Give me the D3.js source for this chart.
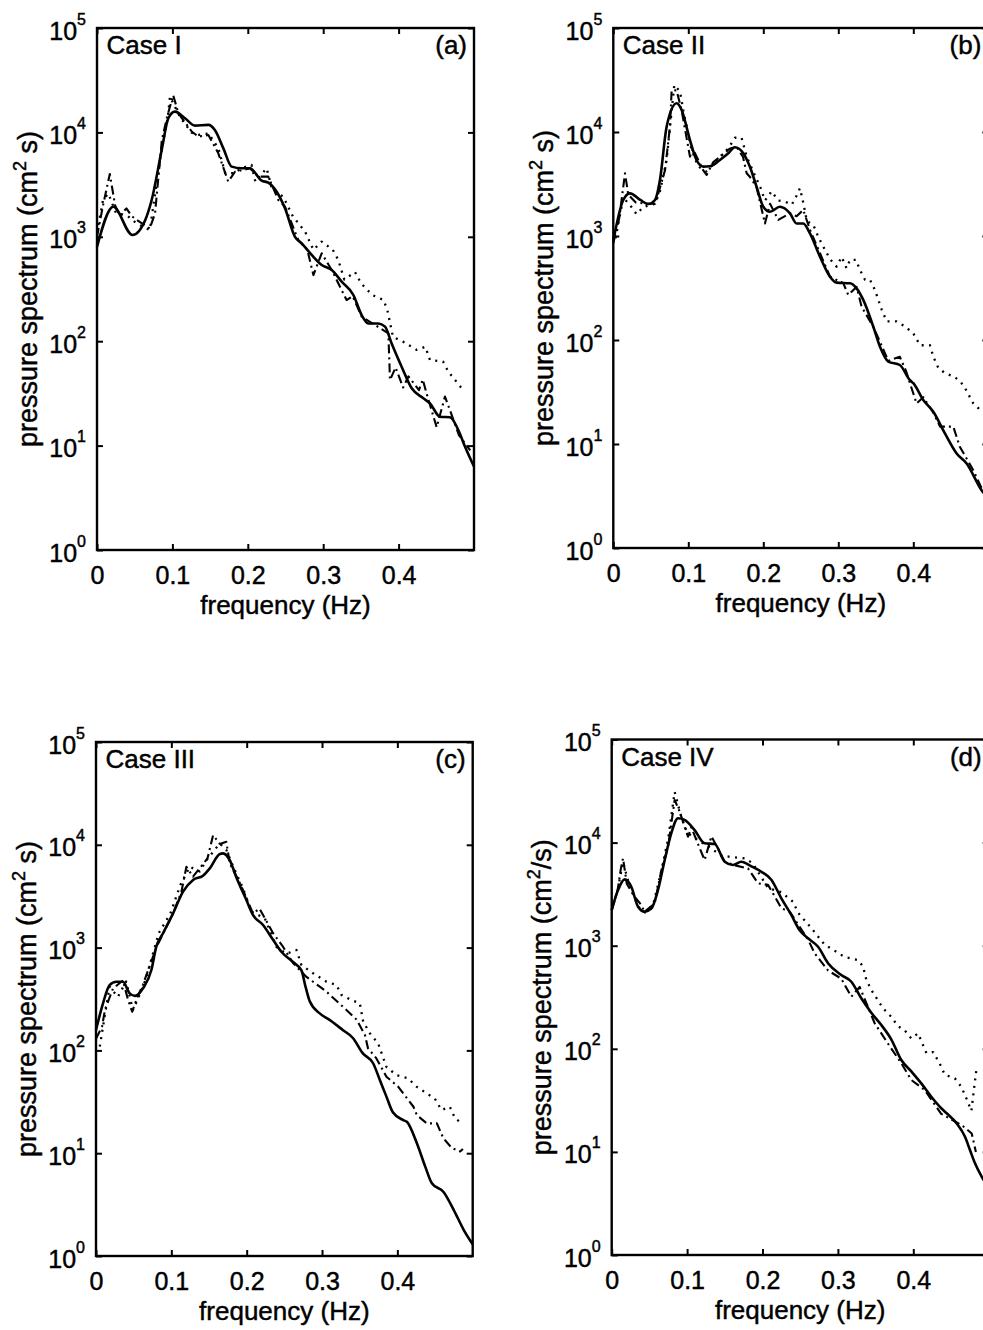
<!DOCTYPE html>
<html><head><meta charset="utf-8">
<script src="https://cdn.jsdelivr.net/npm/d3@7"></script>
<style>
body{margin:0;background:#fff}
svg{display:block}
text{font-family:"Liberation Sans",Arial,Helvetica,sans-serif;fill:#000;stroke:#000;stroke-width:0.45px}
</style>
</head><body>
<svg id="chart" width="983" height="1330"></svg>
<script>
// ---------- data ----------
const xTickValues = [0, 0.1, 0.2, 0.3, 0.4];
const xTickLabels = ["0", "0.1", "0.2", "0.3", "0.4"];
const yTickExponents = [0, 1, 2, 3, 4, 5];
const caseTitles = ["Case I", "Case II", "Case III", "Case IV"];
const panelTags = ["(a)", "(b)", "(c)", "(d)"];
const yUnitTails = [" s)", " s)", " s)", "/s)"];
const yTitleStart = "pressure spectrum (cm";
const xAxisTitle = "frequency (Hz)";

// [frequency (Hz), spectrum (cm^2 s)]
const caseI_solid = [[0,800],[0.0216,1940],[0.047,1040],[0.064,1450],[0.0725,2250],[0.0858,6780],[0.0946,13650],[0.1034,15800],[0.1167,13650],[0.13,11600],[0.1477,11800],[0.1565,10500],[0.1676,7030],[0.1786,4700],[0.1919,4530],[0.2029,4530],[0.2184,3450],[0.2272,3300],[0.2383,2700],[0.2493,1875],[0.2626,1000],[0.2715,865],[0.2847,670],[0.298,537],[0.3113,481],[0.3245,372],[0.34,277],[0.351,178],[0.3598,148],[0.373,148],[0.382,138],[0.3908,95],[0.404,57],[0.4174,35.4],[0.4328,28.4],[0.4416,25.4],[0.4549,18.9],[0.4682,18.7],[0.4792,14.1],[0.488,9.8],[0.5,6.3]];
const caseI_dashdot = [[0,1000],[0.008,2000],[0.017,4000],[0.024,2000],[0.03,1600],[0.039,1870],[0.046,1580],[0.0526,1450],[0.07,1200],[0.077,1680],[0.086,8450],[0.093,14100],[0.101,22800],[0.108,15200],[0.1256,10200],[0.1344,9100],[0.1477,9440],[0.1609,6300],[0.1741,3370],[0.183,4200],[0.2029,4530],[0.214,3770],[0.2272,3770],[0.2405,2250],[0.2493,1950],[0.267,930],[0.279,750],[0.287,430],[0.298,695],[0.3113,481],[0.331,248],[0.339,270],[0.351,172],[0.3864,119],[0.3886,42.5],[0.396,56],[0.406,36],[0.413,46],[0.427,34],[0.432,43],[0.438,30],[0.4505,15],[0.4615,29.5],[0.47,20],[0.48,12.6],[0.495,9]];
const caseI_dotted = [[0,1100],[0.008,2250],[0.015,2600],[0.025,1700],[0.03,1660],[0.04,1600],[0.052,1350],[0.07,1160],[0.085,6300],[0.094,14100],[0.0968,22000],[0.11,14100],[0.125,10000],[0.134,9440],[0.148,9770],[0.161,7030],[0.17,4070],[0.183,4070],[0.19,4500],[0.205,4880],[0.21,3370],[0.225,4530],[0.2325,2800],[0.247,2420],[0.26,1560],[0.276,1120],[0.287,750],[0.298,900],[0.3127,750],[0.32,600],[0.328,390],[0.3422,460],[0.35,360],[0.365,277],[0.38,248],[0.385,200],[0.3925,110],[0.406,99],[0.424,82.6],[0.4355,88.5],[0.4416,66],[0.459,63.7],[0.466,51],[0.4837,35.4]];

const caseII_solid = [[0,900],[0.0133,2220],[0.0222,2570],[0.036,2220],[0.0467,2030],[0.0556,2220],[0.0622,3450],[0.0711,11250],[0.0844,18900],[0.0911,16300],[0.1022,8370],[0.111,5380],[0.12,4650],[0.1289,4680],[0.1422,5380],[0.1533,6240],[0.1622,7130],[0.1733,6240],[0.182,4650],[0.191,2980],[0.2,1910],[0.209,1710],[0.222,1910],[0.2356,1650],[0.2444,1320],[0.2533,1320],[0.2622,1060],[0.2756,632],[0.2889,406],[0.2978,356],[0.3156,351],[0.3244,314],[0.3333,243],[0.3467,134],[0.3556,86],[0.3667,62],[0.382,57.5],[0.3956,41],[0.4,38.4],[0.4133,26.5],[0.4267,20.4],[0.442,12.7],[0.4578,8.1],[0.4711,6.5],[0.491,3.6],[0.5,3.0]];
const caseII_dashdot = [[0,850],[0.008,1500],[0.0156,4000],[0.02,2500],[0.03,2100],[0.045,2040],[0.056,2040],[0.069,4300],[0.0755,11200],[0.0778,25300],[0.0844,25100],[0.0911,16200],[0.1022,5800],[0.106,6900],[0.12,4270],[0.1244,3860],[0.133,5100],[0.155,6900],[0.164,7240],[0.173,5750],[0.1778,4010],[0.182,3720],[0.191,2950],[0.2022,1320],[0.209,2040],[0.22,1430],[0.2356,1650],[0.2444,1550],[0.2533,1780],[0.2622,1150],[0.2889,407],[0.3067,351],[0.3133,271],[0.3244,324],[0.3311,209],[0.3467,134],[0.3667,63],[0.382,69],[0.39,51],[0.4044,24.5],[0.4133,28.2],[0.4267,20],[0.4356,14.7],[0.4533,14.7],[0.462,9.4],[0.48,5.6],[0.49,3.9],[0.5,3.2]];
const caseII_dotted = [[0.003,950],[0.0133,2340],[0.022,2000],[0.031,1620],[0.04,1900],[0.0556,2040],[0.0622,2690],[0.0711,5370],[0.0756,11200],[0.0813,28300],[0.0889,24500],[0.0933,16200],[0.104,6900],[0.113,4680],[0.124,4170],[0.138,5370],[0.153,6900],[0.1622,8800],[0.171,8800],[0.178,5750],[0.189,3800],[0.196,2950],[0.2022,2190],[0.2111,2690],[0.22,2190],[0.229,2140],[0.238,2000],[0.2444,2450],[0.2489,2880],[0.2533,2090],[0.258,1400],[0.267,1260],[0.2733,980],[0.28,790],[0.2889,600],[0.2978,507],[0.3044,630],[0.311,490],[0.3156,590],[0.3236,590],[0.3289,470],[0.3356,380],[0.3422,380],[0.3489,302],[0.358,195],[0.3644,151],[0.3778,151],[0.3889,135],[0.4,116],[0.409,89],[0.4222,89],[0.4267,69],[0.4333,54],[0.4422,48],[0.4556,44],[0.4667,37],[0.48,24.6],[0.49,21],[0.5,19]];

const caseIII_solid = [[0,158],[0.0093,287],[0.018,432],[0.027,466],[0.0358,466],[0.0447,359],[0.052,339],[0.0624,402],[0.0735,605],[0.08,1020],[0.089,1380],[0.1023,2150],[0.1155,3500],[0.1288,4550],[0.142,5010],[0.151,5900],[0.1643,8150],[0.1686,8260],[0.1775,7110],[0.186,4900],[0.1996,2900],[0.2085,2070],[0.2217,1660],[0.235,1190],[0.246,912],[0.2615,724],[0.2727,600],[0.278,420],[0.2837,300],[0.297,229],[0.31,198],[0.3275,158],[0.341,132],[0.354,94],[0.3678,75],[0.377,51],[0.3855,35.5],[0.394,25],[0.4077,21],[0.4126,20.2],[0.4259,12.5],[0.437,7.4],[0.4458,5.1],[0.4613,4.2],[0.4749,2.8],[0.488,1.8],[0.5,1.3]];
const caseIII_dashdot = [[0,130],[0.008,170],[0.012,250],[0.0226,400],[0.0358,480],[0.0425,310],[0.048,238],[0.055,330],[0.0624,437],[0.08,1000],[0.1023,2150],[0.1133,3470],[0.12,6120],[0.1288,4900],[0.148,7380],[0.1554,12400],[0.1643,10200],[0.173,10700],[0.1775,6600],[0.1908,4270],[0.195,3630],[0.2085,2140],[0.217,2400],[0.235,1380],[0.2482,1020],[0.2615,708],[0.279,521],[0.297,417],[0.306,372],[0.3324,247],[0.3457,200],[0.357,141],[0.361,105],[0.372,84],[0.3855,55.5],[0.401,44.4],[0.4214,28.3],[0.426,23.4],[0.439,19.5],[0.4525,19.5],[0.461,14],[0.4724,11.2],[0.4834,10.4],[0.487,11]];
const caseIII_dotted = [[0.005,109],[0.0115,214],[0.018,417],[0.029,331],[0.04,468],[0.049,247],[0.055,309],[0.0655,479],[0.0744,813],[0.0832,1380],[0.0987,2140],[0.112,4070],[0.1244,6120],[0.1377,5500],[0.1466,7080],[0.1643,10300],[0.173,8900],[0.182,6170],[0.195,3800],[0.206,2240],[0.224,1930],[0.2394,1020],[0.2527,871],[0.266,948],[0.2727,676],[0.2882,562],[0.3059,466],[0.3192,432],[0.3258,347],[0.3391,309],[0.3502,287],[0.3546,191],[0.3634,147],[0.3745,117],[0.3855,69],[0.3988,57.5],[0.4143,53.5],[0.4254,44.4],[0.4387,38.3],[0.4498,33.9],[0.4586,26.3],[0.4697,28.3],[0.4764,21.9],[0.483,20.2],[0.4856,19.5]];

const caseIV_solid = [[0,2220],[0.0084,3470],[0.0172,4400],[0.026,3730],[0.0349,2390],[0.0437,2140],[0.0525,2290],[0.0614,3470],[0.0703,6780],[0.079,12300],[0.0879,17200],[0.0967,16600],[0.11,13200],[0.1233,9840],[0.1366,9700],[0.1499,6530],[0.1609,6070],[0.1719,6530],[0.1852,5890],[0.1984,5220],[0.2117,4370],[0.225,2880],[0.2382,1990],[0.2493,1410],[0.2604,1180],[0.2737,977],[0.2869,676],[0.3045,520],[0.3178,447],[0.331,309],[0.3443,224],[0.3576,170],[0.3709,123],[0.3841,77.8],[0.3974,60.3],[0.4106,46.2],[0.4239,34.3],[0.4371,26.5],[0.4443,23.7],[0.4576,18.9],[0.4686,14],[0.475,10.5],[0.482,7.7],[0.4907,5.75],[0.5,4.5]];
const caseIV_dashdot = [[0,2200],[0.008,3500],[0.012,5500],[0.015,7050],[0.02,4000],[0.03,3000],[0.0376,2570],[0.0437,2140],[0.057,2570],[0.0658,5370],[0.0747,9120],[0.0835,25900],[0.0901,20000],[0.1012,11400],[0.1056,14100],[0.1167,8810],[0.1233,6760],[0.1322,11500],[0.14,9000],[0.1499,6530],[0.1631,6030],[0.1808,5620],[0.194,4030],[0.2073,3890],[0.2161,3020],[0.225,2310],[0.236,2140],[0.2604,1150],[0.2692,843],[0.2869,575],[0.3045,479],[0.3178,320],[0.3289,398],[0.3488,177],[0.3665,112],[0.3841,72.4],[0.3974,49.8],[0.4151,39.8],[0.437,23.4],[0.4642,18.2],[0.4775,15.1],[0.483,10]];
const caseIV_dotted = [[0,2200],[0.008,3500],[0.015,6500],[0.022,4200],[0.035,2400],[0.044,2100],[0.055,2500],[0.065,5000],[0.075,11000],[0.0835,31000],[0.092,18000],[0.1,12500],[0.115,10500],[0.13,9000],[0.145,7500],[0.1587,7240],[0.1764,7050],[0.187,6300],[0.2073,3630],[0.225,3300],[0.2405,2670],[0.2471,2090],[0.2648,1480],[0.2825,1020],[0.2979,875],[0.3089,776],[0.3267,726],[0.3333,631],[0.3377,468],[0.3443,372],[0.3599,247],[0.3709,204],[0.3797,166],[0.3885,151],[0.3974,126],[0.4063,141],[0.4174,91],[0.4263,93],[0.4351,72],[0.4417,56],[0.455,51.8],[0.4638,42.7],[0.4704,33],[0.477,25],[0.4814,46],[0.4836,62]];

const panelSeries = [
  [caseI_solid, caseI_dashdot, caseI_dotted],
  [caseII_solid, caseII_dashdot, caseII_dotted],
  [caseIII_solid, caseIII_dashdot, caseIII_dotted],
  [caseIV_solid, caseIV_dashdot, caseIV_dotted]
];

// ---------- layout & style ----------
const layout = [
  {left: 97,    right: 474,   top: 28,    bottom: 550},
  {left: 613.3, right: 988.3, top: 28,    bottom: 548},
  {left: 96,    right: 472.7, top: 742,   bottom: 1256},
  {left: 611.7, right: 988.7, top: 739.5, bottom: 1255}
];
const lineStyles = [
  {width: 2.6, dash: null, curve: d3.curveMonotoneX},
  {width: 2.1, dash: "9,4,2,4", curve: d3.curveLinear},
  {width: 2.3, dash: "2,5.5", curve: d3.curveLinear}
];

const svg = d3.select("#chart");
svg.append("rect").attr("width", 983).attr("height", 1330).attr("fill", "#fff").attr("stroke", "none");

layout.forEach((L, i) => {
  const g = svg.append("g");
  const x = d3.scaleLinear().domain([0, 0.5]).range([L.left, L.right]);
  const y = d3.scaleLog().domain([1, 1e5]).range([L.bottom, L.top]);

  // series
  panelSeries[i].forEach((ser, k) => {
    const st = lineStyles[k];
    const line = d3.line().x(d => x(d[0])).y(d => y(d[1])).curve(st.curve);
    g.append("path").datum(ser)
      .attr("d", line)
      .attr("fill", "none")
      .attr("stroke", "#000")
      .attr("stroke-width", st.width)
      .attr("stroke-linejoin", "round")
      .attr("stroke-dasharray", st.dash);
  });

  // box
  g.append("rect")
    .attr("x", L.left).attr("y", L.top)
    .attr("width", L.right - L.left).attr("height", L.bottom - L.top)
    .attr("fill", "none").attr("stroke", "#000").attr("stroke-width", 2.4);

  const tickVals = yTickExponents.map(e => Math.pow(10, e));

  // bottom axis with inward ticks and labels
  const xb = d3.axisBottom(x).tickValues(xTickValues)
    .tickFormat((d, j) => xTickLabels[j]).tickSizeInner(-6).tickSizeOuter(0).tickPadding(16);
  const gxb = g.append("g").attr("transform", `translate(0,${L.bottom})`).call(xb);
  gxb.select(".domain").remove();
  gxb.selectAll("line").attr("stroke-width", 2);
  gxb.selectAll("text").attr("font-size", 25)
    .attr("font-family", '"Liberation Sans",Arial,sans-serif')
    .attr("stroke", "#000").attr("stroke-width", 0.45);

  // top axis ticks
  const xt = d3.axisTop(x).tickValues(xTickValues).tickFormat("").tickSizeInner(-6).tickSizeOuter(0);
  const gxt = g.append("g").attr("transform", `translate(0,${L.top})`).call(xt);
  gxt.select(".domain").remove();
  gxt.selectAll("line").attr("stroke-width", 2);

  // left/right axis ticks
  const yl = d3.axisLeft(y).tickValues(tickVals).tickFormat("").tickSizeInner(-6).tickSizeOuter(0);
  const gyl = g.append("g").attr("transform", `translate(${L.left},0)`).call(yl);
  gyl.select(".domain").remove();
  gyl.selectAll("line").attr("stroke-width", 2);
  const yr = d3.axisRight(y).tickValues(tickVals).tickFormat("").tickSizeInner(-6).tickSizeOuter(0);
  const gyr = g.append("g").attr("transform", `translate(${L.right},0)`).call(yr);
  gyr.select(".domain").remove();
  gyr.selectAll("line").attr("stroke-width", 2);

  // y tick labels 10^n
  yTickExponents.forEach(e => {
    const ty = y(Math.pow(10, e));
    const t = g.append("text").attr("x", L.left - 11).attr("y", ty + 11.5)
      .attr("text-anchor", "end").attr("font-size", 25);
    t.append("tspan").text("10");
    t.append("tspan").attr("font-size", 16).attr("dy", -15).text(String(e));
  });

  // x axis title
  g.append("text").attr("x", (L.left + Math.min(L.right, L.left + 377)) / 2)
    .attr("y", L.bottom + 64).attr("text-anchor", "middle").attr("font-size", 26)
    .text(xAxisTitle);

  // y axis title
  const yt = g.append("text")
    .attr("transform", `translate(${L.left - 60.5},${(L.top + L.bottom) / 2}) rotate(-90)`)
    .attr("text-anchor", "middle").attr("font-size", 27);
  yt.append("tspan").text(yTitleStart);
  yt.append("tspan").attr("font-size", 18).attr("dy", -11).text("2");
  yt.append("tspan").attr("dy", 11).text(yUnitTails[i]);

  // case title and tag
  g.append("text").attr("x", L.left + 9.5).attr("y", L.top + 26)
    .attr("font-size", 26).text(caseTitles[i]);
  g.append("text").attr("x", L.right - 7).attr("y", L.top + 26)
    .attr("text-anchor", "end").attr("font-size", 26).text(panelTags[i]);
});
</script>
</body></html>
